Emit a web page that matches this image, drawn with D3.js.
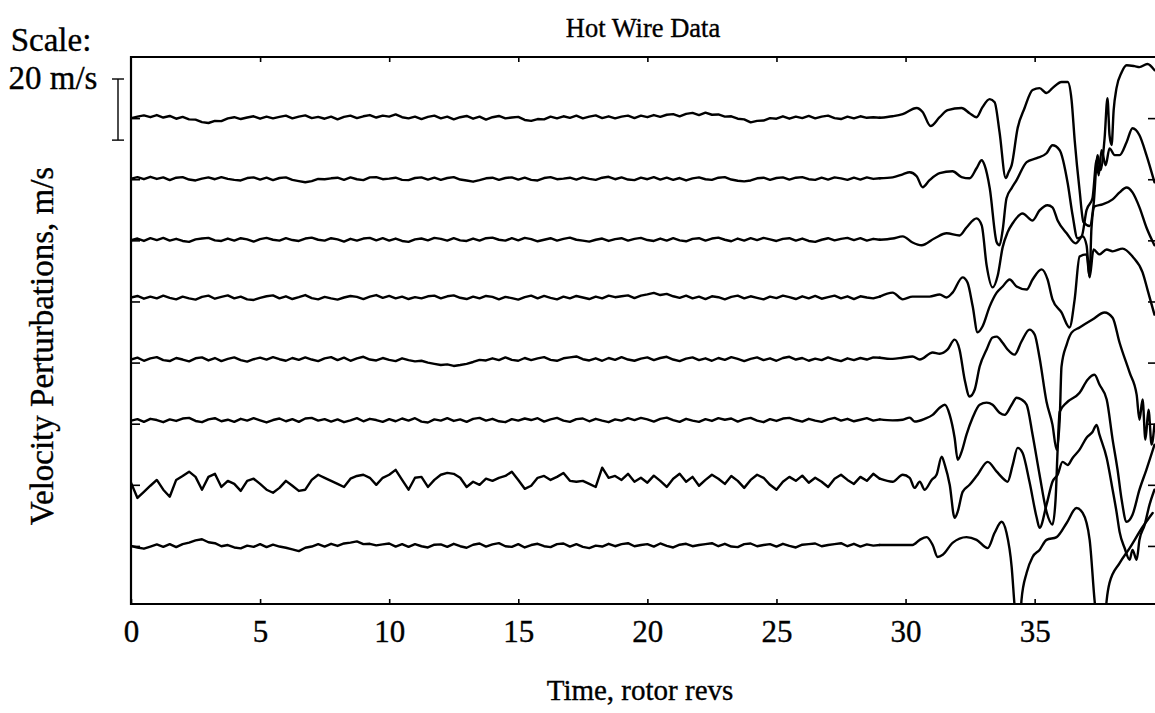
<!DOCTYPE html>
<html><head><meta charset="utf-8">
<script src="https://cdn.jsdelivr.net/npm/d3@7"></script>
<style>
body{margin:0;background:#fff;}
text{font-family:"Liberation Serif","Times New Roman",serif;fill:#000;stroke:#000;stroke-width:0.35px;}
</style></head><body>
<svg id="chart" width="1155" height="713"></svg>
<script>
(function(){
// ---------- data ----------
const xTicks = [0,5,10,15,20,25,30,35];
const traceOffsets = [140,120,100,80,60,40,20,0]; // m/s offsets, top to bottom
const scaleBar = [132.8, 152.8]; // 20 m/s scale bar
const quietStep = 0.25; // rev spacing of the quiet-section samples (0..29 rev)

const quiet1 = [0.0,0.5,0.9,0.3, 1.0,0.2,0.7,-0.2, 0.4,-0.4,-0.5,-1.3, -1.6,-0.9,-1.0,-0.1, 0.3,-0.3,0.2,0.6, -0.2,0.5,-0.1,0.4, 0.8,-0.1,0.5,0.9, 0.0,0.4,-0.2,0.5, -0.4,0.4,0.8,0.0, 0.6,1.0,0.2,0.8, 0.5,1.2,0.3,-0.1, 0.5,-0.3,0.4,0.8, -0.1,0.5,-0.4,0.3, 0.7,-0.2,0.5,-0.5, 0.3,0.7,-0.1,0.2, 0.4,-0.6,-0.9,-0.3, -0.4,0.5,-0.1,0.6, 0.1,0.8,-0.1,0.5, 0.9,0.0,0.6,-0.1, 0.5,0.8,0.0,0.8, 0.3,1.0,0.4,1.1, 1.3,0.6,1.4,1.7, 1.0,1.8,1.1,1.2, 0.5,0.6,-0.2,-0.4, -1.4,-0.9,-0.8,0.0, -0.2,0.6,-0.2,0.5, 0.0,0.7,-0.1,0.5, 0.8,0.0,-0.3,0.5, -0.1,0.6,0.1,0.3, 0.1];
const quiet2 = [0.2,0.7,0.0,0.8, 0.1,0.6,-0.3,0.5, 0.7,-0.1,-0.4,0.2, 0.6,0.0,0.7,0.1, -0.2,-0.4,0.4,0.6, -0.1,0.5,-0.3,0.4, 0.6,-0.2,-0.6,-1.0, -0.6,0.1,0.0,0.3, 0.5,-0.2,0.6,0.0, -0.3,0.6,0.7,0.0, 0.2,0.5,-0.2,-0.3, 0.4,0.6,-0.1,0.5, -0.2,0.4,0.7,-0.1, -0.4,-0.8,-0.3,0.3, 0.5,-0.2,0.4,0.6, -0.1,0.5,-0.2,-0.4, 0.4,0.7,0.0,0.2, 0.5,-0.1,0.6,0.1, -0.2,0.5,0.8,0.0, 0.6,-0.1,-0.3,0.5, 0.0,0.7,-0.1,0.5, -0.2,0.4,-0.4,0.3, 0.6,0.0,-0.2,0.5, 0.7,-0.1,-0.5,-0.7, -0.4,0.3,0.5,-0.2, 0.4,0.6,-0.1,0.5, 0.7,0.0,-0.2,0.5, -0.1,0.6,0.3,-0.2, 0.5,-0.1,0.6,0.1, 0.3];
const quiet3 = [0.0,0.6,-0.2,0.7, 0.1,0.8,-0.1,0.5, -0.2,-0.5,0.3,0.6, 0.8,0.0,-0.2,0.6, -0.1,0.7,0.3,-0.4, 0.4,0.8,0.2,-0.1, 0.7,0.1,-0.2,0.6, 0.9,0.2,-0.1,0.7, 0.3,-0.4,0.5,-0.1, 0.6,0.8,0.0,0.7, -0.1,0.6,-0.2,-0.5, 0.3,0.6,0.0,0.8, 0.5,-0.1,0.7,0.0, -0.2,0.6,-0.1,0.7, 0.9,0.2,-0.1,0.7, 0.0,0.8,0.4,-0.3, 0.2,0.7,-0.1,0.5, 0.9,0.2,-0.1,-0.4, 0.2,0.6,-0.2,0.4, 0.7,-0.1,0.5,0.8, 0.1,-0.2,0.6,-0.1, 0.7,0.0,-0.3,0.5, 0.7,-0.1,0.6,0.9, 0.2,-0.3,0.6,-0.1, 0.7,0.1,0.8,0.3, -0.2,0.5,0.7,-0.1, 0.6,-0.2,-0.5,0.2, 0.7,0.0,0.5,0.8, 0.1,0.7,-0.1,0.5, 0.2];
const quiet4 = [1.3,1.8,0.9,1.6, 1.0,1.9,1.2,0.7, 1.6,1.0,0.6,1.5, 1.9,0.9,1.5,2.0, 1.0,1.6,0.7,0.5, 1.2,1.7,2.0,1.0, 1.7,0.8,1.4,2.1, 1.1,0.7,1.5,1.0, 0.6,1.3,1.8,1.5, 0.8,1.6,2.1,1.2, 1.8,1.0,1.6,0.8, 1.4,1.0,1.7,1.9, 1.0,1.7,2.0,1.2, 0.8,1.6,1.0,1.8, 1.5,0.7,1.5,1.1, 0.6,1.4,1.9,1.0, 1.8,1.2,0.7,1.6, 1.0,1.8,1.3,0.8, 1.6,1.0,1.9,1.4, 1.7,2.0,1.1,1.9, 2.3,2.8,2.1,2.5, 1.7,1.2,1.9,1.0, 1.6,0.8,1.7,1.4, 0.7,1.5,1.9,1.0, 1.7,1.2,0.7,1.6, 1.1,1.9,1.4,0.8, 1.7,1.0,1.8,0.9, 1.4,1.9,1.0,1.7, 0.8,1.7,1.3,1.0, 1.6];
const quiet5 = [1.0,1.6,0.6,1.4, 1.8,0.8,0.5,1.5, 1.0,0.4,1.4,1.7, 0.7,1.5,0.5,1.2, 1.7,0.8,0.3,1.1, 1.6,1.0,1.8,1.1, 0.6,1.5,0.9,1.7, 1.0,0.5,1.4,1.8, 0.8,1.6,0.6,1.4, 1.9,1.0,0.7,1.5, 0.9,0.5,1.4,0.8, 0.4,0.6,0.0,-0.4, -0.8,-0.6,-1.1,-0.8, -0.4,0.2,0.9,0.7, 1.4,0.8,1.7,0.9, 0.6,1.5,0.8,1.4, 1.8,0.9,0.6,1.4, 1.7,2.0,1.1,0.7, 1.4,0.6,1.5,0.9, 1.8,1.0,0.6,1.3, 1.7,0.8,1.5,1.9, 1.0,0.5,1.3,1.7, 0.8,1.4,0.6,1.5, 0.9,1.8,1.2,0.5, 1.2,1.7,0.8,1.4, 0.6,1.5,1.9,1.0, 1.5,0.6,1.3,0.8, 1.7,1.0,0.5,1.4, 0.8,1.5,1.0,1.7, 1.6];
const quiet6 = [1.0,1.5,0.6,1.6, 1.2,0.5,1.4,0.9, 1.7,1.9,0.9,0.5, 1.4,1.8,0.8,1.3, 0.6,1.6,1.0,1.8, 1.1,0.4,1.2,1.7, 0.8,1.5,0.6,1.7, 1.9,1.0,1.5,0.7, 1.4,0.5,1.1,1.8, 0.8,1.6,1.2,0.6, 1.5,0.8,1.7,1.0, 1.8,0.7,0.4,1.4, 1.0,1.8,0.9,1.4, 0.6,1.6,1.9,1.0, 1.6,0.8,0.5,1.5, 1.0,1.7,1.2,1.8, 0.7,1.4,1.9,1.0, 0.6,1.5,1.7,0.8, 1.6,1.0,0.5,1.4, 1.0,1.8,1.2,1.9, 1.4,0.7,1.6,2.0, 1.2,0.6,1.6,1.0, 0.6,1.5,0.9,1.8, 1.3,1.7,0.7,1.5, 1.9,1.0,0.5,1.5, 0.9,1.7,1.9,1.2, 0.7,1.6,1.0,0.6, 1.4,1.9,1.0,1.6, 0.8,1.3,1.8,1.0, 1.4];
const quiet7 = [0.7,-4.3,-2.3,-0.3, 1.6,-1.6,-3.9,1.6, 2.9,4.3,2.6,-1.6, 2.6,3.6,-0.7,1.3, 0.3,-2.0,1.3,2.0, 0.3,-1.6,-2.6,-1.0, 1.3,-0.3,-2.0,-1.6, 1.6,3.3,2.3,1.3, 0.3,-0.7,2.0,2.9, 3.3,2.3,0.0,2.3, 3.3,4.9,1.6,-1.6, 2.3,2.6,-0.7,1.6, 3.3,3.9,3.6,2.3, -0.7,1.0,0.0,2.0, 1.3,2.3,2.9,4.3, 1.6,-1.3,-0.3,2.3, 2.9,1.6,2.6,3.9, 1.3,1.0,1.3,0.3, -0.7,5.6,2.3,2.9, 1.6,3.6,1.0,2.3, 0.7,3.0,1.3,-0.7, 2.0,3.6,1.0,2.6, -0.3,1.6,3.3,2.0, 0.3,2.9,1.3,-1.0, 1.6,3.3,2.3,0.0, -1.6,1.0,2.6,1.3, 3.0,0.7,2.3,1.0, -0.7,2.0,3.3,1.6, 0.3,2.6,1.3,3.6, 2.0];
const quiet8 = [0.0,-0.5,-0.9,-0.2, 0.5,-0.3,0.6,-0.4, 0.6,1.1,1.8,2.2, 1.2,0.9,-0.1,0.3, -0.5,-0.8,0.1,-0.3, 0.6,-0.4,0.4,-0.2, -0.6,-1.1,-1.7,-0.6, -0.2,0.6,-0.2,0.7, 0.0,0.8,1.1,1.5, 0.6,0.7,0.2,0.5, 0.8,-0.2,0.6,-0.3, 0.6,-0.1,-0.5,0.4, 0.5,-0.3,0.7,-0.1, -0.6,0.4,0.8,-0.2, 0.5,0.9,-0.1,-0.3, 0.6,-0.5,0.3,0.7, -0.1,-0.4,0.6,0.8, -0.2,0.6,-0.3,-0.7, 0.1,-0.2,0.7,-0.1, 0.6,0.9,-0.1,0.3, 0.6,-0.2,0.8,0.0, -0.5,0.4,0.7,-0.1, 0.3,0.6,0.9,-0.1, 0.7,-0.2,-0.4,0.6, 0.8,-0.1,0.3,0.6, -0.2,0.7,0.0,-0.5, 0.4,0.6,0.8,-0.1, 0.3,0.6,0.9,-0.1, 0.7,-0.2,0.5,0.1, 0.3];

// stall section: [rev, m/s perturbation]
const stall1 = [[29.5,0.6],[29.89,1.3],[30.43,3.3],[30.66,2.0],[30.97,-2.6],[31.32,0.3],[31.63,2.6],[32.17,3.3],[32.48,1.6],[32.75,0.3],[32.98,3.6],[33.26,6.2],[33.45,5.2],[33.64,-4.6],[33.88,-19.6],[33.99,-17.7],[34.11,-15.4],[34.34,-3.3],[34.61,3.3],[34.92,9.2],[35.19,9.8],[35.46,8.2],[35.69,9.8],[36.04,11.8],[36.28,11.8],[36.43,5.9],[36.55,-7.2],[36.74,-23.6],[36.89,-34.0],[37.13,-35.3],[37.28,-28.5],[37.44,-12.1],[37.55,-17.0],[37.71,-6.5],[37.82,6.5],[37.90,-5.6],[37.98,-8.8],[38.06,2.6],[38.17,9.8],[38.37,15.0],[38.56,17.3],[38.87,17.0],[39.06,16.7],[39.37,17.7],[39.64,15.7]];
const stall2 = [[29.5,0.6],[29.89,1.6],[30.16,2.3],[30.43,1.0],[30.66,-2.6],[30.93,-0.3],[31.32,2.0],[31.82,2.6],[32.17,0.7],[32.48,0.3],[32.75,3.6],[32.95,6.2],[33.06,4.6],[33.26,-2.9],[33.53,-20.6],[33.64,-21.6],[33.76,-16.7],[33.91,-6.2],[34.11,-2.9],[34.30,-0.3],[34.69,5.6],[35.08,6.9],[35.46,8.5],[35.69,11.1],[35.97,9.5],[36.28,-1.3],[36.47,-11.8],[36.66,-19.3],[36.82,-18.7],[37.01,-10.1],[37.24,-6.2],[37.40,6.2],[37.48,1.3],[37.59,9.5],[37.75,4.6],[37.90,10.1],[38.10,7.9],[38.29,7.9],[38.56,12.1],[38.79,16.7],[39.06,14.4],[39.33,7.9],[39.64,-1.0]];
const stall3 = [[29.5,0.6],[29.89,1.3],[30.27,-0.7],[30.62,-1.6],[31.13,0.7],[31.59,2.3],[32.09,1.6],[32.36,4.2],[32.75,7.2],[32.95,4.9],[33.14,-8.2],[33.37,-15.4],[33.57,-11.5],[33.76,-2.3],[33.95,2.6],[34.15,5.6],[34.53,8.8],[34.92,6.5],[35.19,9.8],[35.50,11.5],[35.69,10.8],[35.89,6.5],[36.24,2.3],[36.59,-1.0],[36.86,1.3],[37.01,-1.6],[37.13,-11.8],[37.20,3.9],[37.32,11.1],[37.63,11.8],[38.02,13.4],[38.29,15.7],[38.56,17.3],[38.79,15.7],[39.06,10.8],[39.33,4.2],[39.64,-1.6]];
const stall4 = [[29.50,2.9],[29.89,0.7],[30.27,1.6],[30.93,1.6],[31.32,2.3],[31.59,1.3],[31.82,2.9],[32.21,7.9],[32.40,6.2],[32.60,-1.6],[32.79,-10.1],[32.98,-8.2],[33.26,-1.6],[33.53,2.9],[33.76,4.9],[34.03,7.2],[34.30,4.9],[34.69,3.9],[34.92,7.2],[35.27,10.5],[35.50,7.2],[35.69,0.7],[36.04,-3.6],[36.35,-8.5],[36.55,0.7],[36.74,14.7],[37.01,15.4],[37.13,7.9],[37.28,17.0],[37.51,15.4],[37.79,17.0],[38.02,16.4],[38.41,17.3],[38.79,14.7],[39.18,9.5],[39.37,3.9],[39.64,-4.3]];
const stall5 = [[29.5,1.2],[29.89,1.6],[30.27,2.0],[30.55,1.0],[31.05,3.3],[31.32,2.9],[31.63,4.3],[31.90,7.5],[32.09,4.3],[32.29,-5.6],[32.48,-11.1],[32.68,-8.8],[32.87,-1.3],[33.14,4.3],[33.37,8.2],[33.53,8.5],[33.76,6.5],[33.95,4.3],[34.22,2.6],[34.49,6.9],[34.80,10.8],[35.00,9.2],[35.19,1.6],[35.46,-12.8],[35.69,-20.3],[35.85,-28.5],[35.97,-18.7],[36.04,-1.3],[36.24,5.9],[36.43,9.8],[36.74,11.5],[37.24,14.1],[37.71,16.4],[38.02,14.7],[38.29,6.5],[38.68,-3.3],[38.95,-10.5],[39.06,-18.7],[39.18,-12.1],[39.29,-25.2],[39.41,-15.4],[39.53,-26.8],[39.64,-20.3]];
const stall6 = [[29.5,1.1],[29.89,1.3],[30.16,2.0],[30.35,0.7],[30.74,1.6],[31.05,2.9],[31.32,5.2],[31.52,6.2],[31.71,2.9],[31.90,-4.6],[32.02,-11.8],[32.17,-9.2],[32.36,-3.6],[32.60,2.0],[32.87,6.2],[33.14,6.9],[33.37,6.2],[33.64,3.6],[33.84,2.9],[34.11,6.2],[34.30,8.5],[34.49,7.9],[34.69,6.2],[34.92,-3.6],[35.19,-16.7],[35.46,-28.8],[35.69,-33.0],[35.81,-24.9],[35.89,-8.5],[35.97,3.9],[36.24,6.9],[36.74,10.1],[37.05,14.4],[37.32,16.0],[37.51,12.8],[37.79,7.9],[38.02,-5.2],[38.21,-15.0],[38.37,-24.9],[38.56,-32.1],[38.79,-29.8],[39.06,-21.6],[39.33,-15.0],[39.64,-6.9]];
const stall7 = [[29.5,1.0],[29.89,3.3],[30.16,2.3],[30.35,-1.0],[30.55,1.0],[30.74,-1.6],[31.01,1.6],[31.20,3.3],[31.40,9.2],[31.52,6.5],[31.71,0.0],[31.90,-10.8],[32.02,-8.8],[32.21,-2.3],[32.48,0.0],[32.79,3.3],[33.18,7.5],[33.53,4.3],[33.84,1.6],[33.95,1.0],[34.15,6.5],[34.34,12.1],[34.53,10.5],[34.80,1.0],[35.08,-10.8],[35.19,-14.1],[35.46,-6.5],[35.69,1.0],[35.89,3.3],[36.08,7.5],[36.28,6.5],[36.47,8.8],[36.74,11.5],[37.01,15.4],[37.24,17.3],[37.40,19.6],[37.51,16.4],[37.79,8.8],[38.02,-1.6],[38.17,-8.8],[38.29,-15.4],[38.48,-20.6],[38.68,-24.5],[38.79,-21.3],[38.95,-24.5],[39.06,-18.0],[39.26,-13.1],[39.45,-6.5],[39.64,-1.6]];
const stall8 = [[29.5,0.3],[29.89,0.3],[30.27,0.3],[30.55,2.0],[30.82,2.9],[31.05,0.3],[31.24,-3.6],[31.44,-2.9],[31.82,1.0],[32.36,2.9],[32.75,2.0],[33.18,-0.7],[33.45,4.3],[33.72,7.9],[33.91,4.3],[34.11,-6.9],[34.22,-19.3],[34.34,-30.0],[34.42,-30.0],[34.49,-17.7],[34.69,-8.8],[34.92,-3.6],[35.19,-1.3],[35.46,2.0],[35.85,2.9],[36.24,7.5],[36.62,12.4],[36.86,10.8],[37.13,2.0],[37.32,-17.7],[37.48,-30.0],[37.67,-30.0],[37.79,-17.7],[37.90,-12.1],[38.29,-5.6],[38.68,-0.7],[39.18,6.2],[39.57,10.8]];

const quietSets = [quiet1,quiet2,quiet3,quiet4,quiet5,quiet6,quiet7,quiet8];
const stallSets = [stall1,stall2,stall3,stall4,stall5,stall6,stall7,stall8];

// ---------- layout ----------
const svg = d3.select("#chart");
const L = 131, R = 1156, T = 57, B = 604;
const x = d3.scaleLinear().domain([0, 39.7]).range([L, R]);
const y = d3.scaleLinear().domain([-19, 160]).range([B, T]);

svg.append("defs").append("clipPath").attr("id","plotclip")
  .append("rect").attr("x",L).attr("y",T).attr("width",R-L).attr("height",B-T);

const lineQ = d3.line().x(d=>x(d[0])).y(d=>y(d[1]));
const lineS = d3.line().x(d=>x(d[0])).y(d=>y(d[1])).curve(d3.curveMonotoneX);
const g = svg.append("g").attr("clip-path","url(#plotclip)");
quietSets.forEach((q,i)=>{
  const off = traceOffsets[i];
  const qp = q.map((v,j)=>[j*quietStep, v+off]);
  const sp = stallSets[i].map(d=>[d[0], d[1]+off]);
  g.append("path").attr("d", lineQ(qp)).attr("fill","none")
    .attr("stroke","#000").attr("stroke-width",2.4).attr("stroke-linejoin","round").attr("stroke-linecap","round");
  g.append("path").attr("d", lineS([qp[qp.length-1]].concat(sp))).attr("fill","none")
    .attr("stroke","#000").attr("stroke-width",2.4).attr("stroke-linejoin","round").attr("stroke-linecap","round");
});

svg.append("path").attr("d",`M${R},${T}H${L}V${B}H${R}`).attr("fill","none").attr("stroke","#000").attr("stroke-width",2.2);

const fmt = d3.format("d");
const axB = svg.append("g").attr("transform",`translate(0,${B})`)
  .call(d3.axisBottom(x).tickValues(xTicks).tickFormat(fmt).tickSizeInner(-5).tickSizeOuter(0).tickPadding(16));
axB.select(".domain").remove();
axB.selectAll("text").attr("font-size",31).attr("font-family","Liberation Serif");
axB.selectAll("line").attr("stroke-width",1.6);
const axT = svg.append("g").attr("transform",`translate(0,${T})`)
  .call(d3.axisTop(x).tickValues(xTicks.slice(1)).tickFormat("").tickSizeInner(-5).tickSizeOuter(0));
axT.select(".domain").remove();
axT.selectAll("line").attr("stroke-width",1.6);
const axL = svg.append("g").attr("transform",`translate(${L},0)`)
  .call(d3.axisLeft(y).tickValues(traceOffsets).tickFormat("").tickSizeInner(-9).tickSizeOuter(0));
axL.select(".domain").remove();
axL.selectAll("line").attr("stroke-width",1.6);
const axR = svg.append("g").attr("transform",`translate(${R-1},0)`)
  .call(d3.axisRight(y).tickValues(traceOffsets).tickFormat("").tickSizeInner(-7).tickSizeOuter(0));
axR.select(".domain").remove();
axR.selectAll("line").attr("stroke-width",1.6);

const sbx = 118;
svg.append("line").attr("x1",sbx).attr("x2",sbx).attr("y1",y(scaleBar[0])).attr("y2",y(scaleBar[1])).attr("stroke","#000").attr("stroke-width",1.4);
scaleBar.forEach(v=>svg.append("line").attr("x1",sbx-6).attr("x2",sbx+6).attr("y1",y(v)).attr("y2",y(v)).attr("stroke","#000").attr("stroke-width",1.4));

svg.append("text").attr("x",643).attr("y",37).attr("text-anchor","middle").attr("font-size",26.5).text("Hot Wire Data");
svg.append("text").attr("x",51).attr("y",51).attr("text-anchor","middle").attr("font-size",33).text("Scale:");
svg.append("text").attr("x",53).attr("y",89).attr("text-anchor","middle").attr("font-size",33).text("20 m/s");
svg.append("text").attr("x",640).attr("y",700).attr("text-anchor","middle").attr("font-size",29).text("Time, rotor revs");
svg.append("text").attr("transform","translate(53,346) rotate(-90)").attr("text-anchor","middle").attr("font-size",33).text("Velocity Perturbations, m/s");
})();
</script></body></html>
